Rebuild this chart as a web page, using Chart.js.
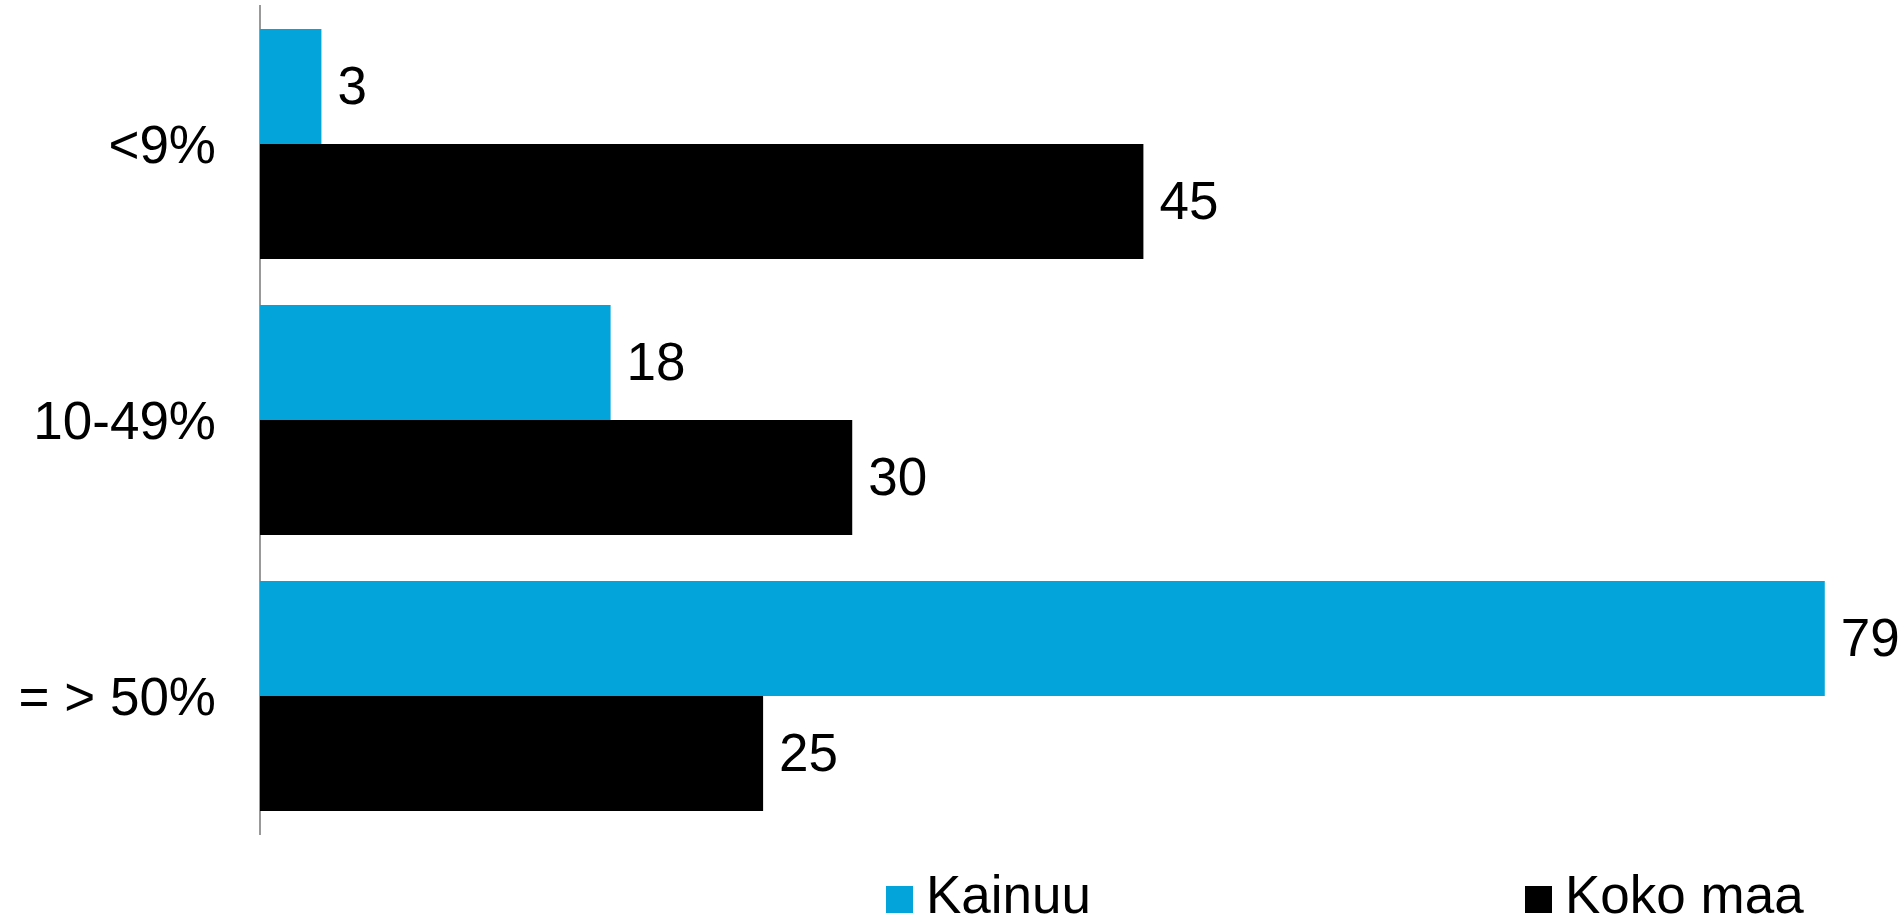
<!DOCTYPE html>
<html>
<head>
<meta charset="utf-8">
<title>Kainuu vs Koko maa</title>
<script src="https://cdn.jsdelivr.net/npm/chart.js@4.4.1/dist/chart.umd.min.js"></script>
<style>
    html, body { margin: 0; padding: 0; background: #ffffff; }
    #chartBox { width: 1904px; height: 918px; }
</style>
</head>
<body>
<div id="chartBox"><canvas id="barChart" width="1904" height="918"></canvas></div>
<script>
// Chart data
const categories = ['<9%', '10-49%', '= > 50%'];
const seriesNames = ['Kainuu', 'Koko maa'];
const kainuuValues = [3.1, 17.7, 79];
const kokoMaaValues = [44.6, 29.9, 25.4];
const seriesColors = ['#02a4da', '#000000'];

const FONT = "'Liberation Sans', Arial, sans-serif";

// Value labels to the right of every bar
const valueLabels = {
    id: 'valueLabels',
    afterDatasetsDraw(chart) {
        const ctx = chart.ctx;
        ctx.save();
        ctx.font = '53px ' + FONT;
        ctx.fillStyle = '#000000';
        ctx.textAlign = 'left';
        ctx.textBaseline = 'middle';
        chart.data.datasets.forEach((ds, i) => {
            chart.getDatasetMeta(i).data.forEach((bar, j) => {
                ctx.fillText(String(Math.round(ds.data[j])), bar.x + 16, bar.y + 3);
            });
        });
        ctx.restore();
    }
};

// Legend at the bottom, drawn on the canvas
const bottomLegend = {
    id: 'bottomLegend',
    afterDraw(chart) {
        const ctx = chart.ctx;
        const itemX = [886, 1525];
        ctx.save();
        ctx.font = '53px ' + FONT;
        ctx.textBaseline = 'alphabetic';
        ctx.textAlign = 'left';
        chart.data.datasets.forEach((ds, i) => {
            ctx.fillStyle = ds.backgroundColor;
            ctx.fillRect(itemX[i], 886, 27, 27);
            ctx.fillStyle = '#000000';
            ctx.fillText(ds.label, itemX[i] + 40, 913);
        });
        ctx.restore();
    }
};

const ctx = document.getElementById('barChart').getContext('2d');
new Chart(ctx, {
    type: 'bar',
    data: {
        labels: categories,
        datasets: [
            { label: seriesNames[0], data: kainuuValues, backgroundColor: seriesColors[0] },
            { label: seriesNames[1], data: kokoMaaValues, backgroundColor: seriesColors[1] }
        ]
    },
    options: {
        indexAxis: 'y',
        responsive: false,
        animation: false,
        layout: { padding: { top: 6, bottom: 84, left: 0, right: 0 } },
        datasets: {
            bar: { categoryPercentage: 0.833, barPercentage: 1.0, borderWidth: 0 }
        },
        scales: {
            x: {
                display: false,
                min: 0,
                max: 83
            },
            y: {
                // fixed axis width, and no extra room above/below for the labels
                afterFit(scale) {
                    scale.width = 260;
                    scale.paddingTop = 0;
                    scale.paddingBottom = 0;
                },
                grid: { display: false, drawTicks: false },
                border: { display: true, color: '#999999', width: 2 },
                ticks: {
                    padding: 44,
                    labelOffset: 4,
                    color: '#000000',
                    font: { family: FONT, size: 53 }
                }
            }
        },
        plugins: {
            legend: { display: false },
            tooltip: { enabled: false }
        }
    },
    plugins: [valueLabels, bottomLegend]
});
</script>
</body>
</html>
